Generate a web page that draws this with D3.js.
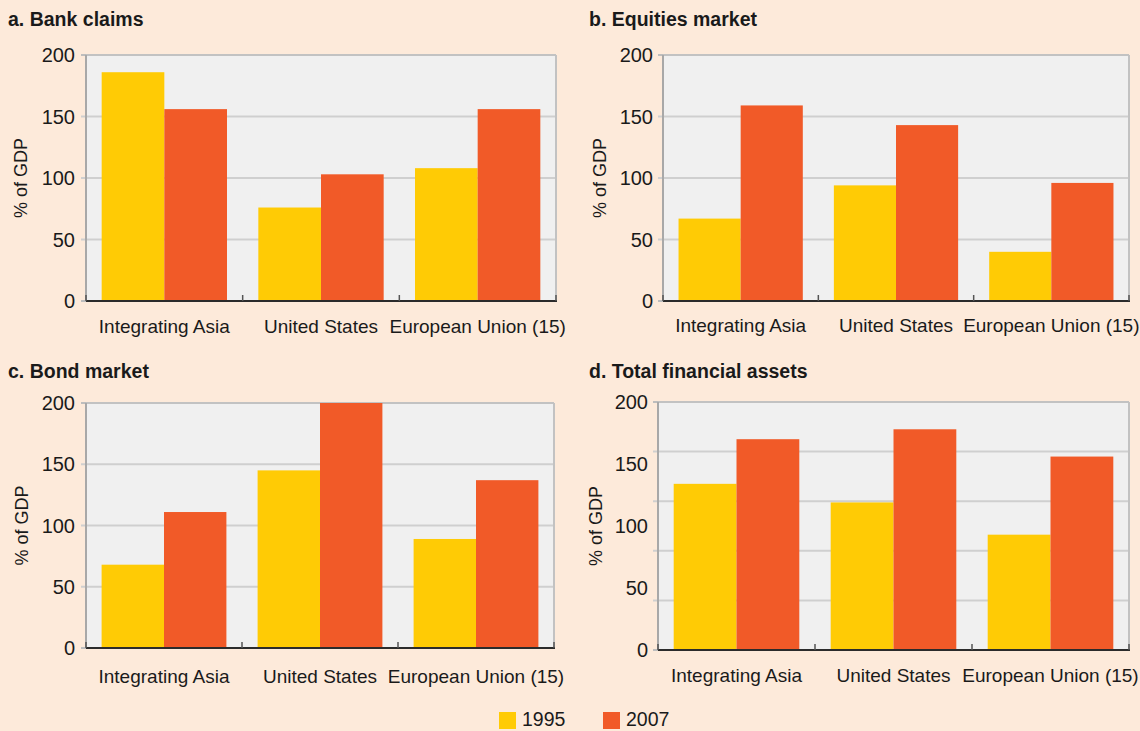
<!DOCTYPE html>
<html>
<head>
<meta charset="utf-8">
<script src="https://cdn.jsdelivr.net/npm/d3@7"></script>
<style>
  html, body { margin: 0; padding: 0; background: #FDEADA; }
  svg { display: block; }
  text { font-family: "Liberation Sans", Arial, sans-serif; fill: #1a1a1a; }
</style>
</head>
<body>
<svg id="chart" width="1140" height="731"></svg>
<script>
// ---- Data ----
const categories = ["Integrating Asia", "United States", "European Union (15)"];
const seriesNames = ["1995", "2007"];
const panelTitles = ["a. Bank claims", "b. Equities market", "c. Bond market", "d. Total financial assets"];
const yTickLabels = [0, 50, 100, 150, 200];
const bank1995 = [186, 76, 108];
const bank2007 = [156, 103, 156];
const equity1995 = [67, 94, 40];
const equity2007 = [159, 143, 96];
const bond1995 = [68, 145, 89];
const bond2007 = [111, 200, 137];
const total1995 = [134, 119, 93];
const total2007 = [170, 178, 156];
const totalGridValues = [40, 80, 120, 160];

// ---- Style / layout ----
const colors = { "1995": "#FFCB05", "2007": "#F15A28" };
const panels = [
  { title: panelTitles[0], v1: bank1995, v2: bank2007, left: 86, right: 556, top: 55, bottom: 301, tx: 8, ty: 26, ylx: 27, tickR: 75, catY: 333, grid: null },
  { title: panelTitles[1], v1: equity1995, v2: equity2007, left: 663, right: 1129, top: 55, bottom: 301, tx: 589, ty: 26, ylx: 606, tickR: 653, catY: 332, grid: null },
  { title: panelTitles[2], v1: bond1995, v2: bond2007, left: 86, right: 554, top: 403, bottom: 648, tx: 8, ty: 378, ylx: 28, tickR: 75, catY: 683, grid: null },
  { title: panelTitles[3], v1: total1995, v2: total2007, left: 658, right: 1129, top: 402, bottom: 650, tx: 589, ty: 378, ylx: 602, tickR: 648, catY: 682, grid: totalGridValues }
];

const svg = d3.select("#chart");

panels.forEach(p => {
  const g = svg.append("g");
  const x = d3.scaleBand().domain(categories).range([p.left, p.right]).paddingInner(0.2).paddingOuter(0.1);
  const xs = d3.scaleBand().domain(seriesNames).range([0, x.bandwidth()]);
  const y = d3.scaleLinear().domain([0, 200]).range([p.bottom, p.top]);

  // title
  g.append("text").attr("x", p.tx).attr("y", p.ty)
    .attr("font-size", 19.5).attr("font-weight", "bold").text(p.title);

  // plot background
  g.append("rect").attr("x", p.left).attr("y", p.top)
    .attr("width", p.right - p.left).attr("height", p.bottom - p.top)
    .attr("fill", "#F0F0F0");

  // gridlines + left ticks
  const gridVals = p.grid ? p.grid : yTickLabels.filter(v => v > 0 && v < 200);
  g.selectAll(".grid").data(gridVals).enter().append("line")
    .attr("x1", p.left - 5).attr("x2", p.right)
    .attr("y1", d => y(d)).attr("y2", d => y(d))
    .attr("stroke", "#CFCFCF").attr("stroke-width", 2);
  [0, 200].forEach(v => {
    g.append("line").attr("x1", p.left - 5).attr("x2", p.left)
      .attr("y1", y(v)).attr("y2", y(v)).attr("stroke", "#BDBDBD").attr("stroke-width", 2);
  });

  // frame: top, right
  g.append("line").attr("x1", p.left).attr("x2", p.right).attr("y1", p.top).attr("y2", p.top)
    .attr("stroke", "#C2C2C2").attr("stroke-width", 2);
  g.append("line").attr("x1", p.right).attr("x2", p.right).attr("y1", p.top).attr("y2", p.bottom)
    .attr("stroke", "#C2C2C2").attr("stroke-width", 2);

  // bars
  const rows = categories.map((c, i) => ({ cat: c, vals: [p.v1[i], p.v2[i]] }));
  const grp = g.selectAll(".grp").data(rows).enter().append("g")
    .attr("transform", d => `translate(${x(d.cat)},0)`);
  grp.selectAll("rect").data(d => d.vals.map((v, j) => ({ s: seriesNames[j], v }))).enter().append("rect")
    .attr("x", d => xs(d.s)).attr("width", xs.bandwidth())
    .attr("y", d => y(d.v)).attr("height", d => y(0) - y(d.v))
    .attr("fill", d => colors[d.s]);

  // left axis line
  g.append("line").attr("x1", p.left).attr("x2", p.left).attr("y1", p.top).attr("y2", p.bottom)
    .attr("stroke", "#A8A8A8").attr("stroke-width", 2);

  // bottom axis line with category boundary ticks
  g.append("line").attr("x1", p.left).attr("x2", p.right + 1).attr("y1", p.bottom).attr("y2", p.bottom)
    .attr("stroke", "#2b2b2b").attr("stroke-width", 2);
  const step = x.step();
  const bounds = [p.left, p.right].concat(categories.slice(1).map(c => x(c) - step * x.paddingInner() / 2));
  g.selectAll(".bt").data(bounds).enter().append("line")
    .attr("x1", d => d).attr("x2", d => d).attr("y1", p.bottom).attr("y2", p.bottom - 6)
    .attr("stroke", "#555").attr("stroke-width", 1.5);

  // y tick labels
  g.selectAll(".yl").data(yTickLabels).enter().append("text")
    .attr("x", p.tickR).attr("y", d => y(d)).attr("dy", "0.36em")
    .attr("text-anchor", "end").attr("font-size", 20).text(d => d);

  // category labels
  g.selectAll(".cl").data(categories).enter().append("text")
    .attr("x", d => x(d) + x.bandwidth() / 2).attr("y", p.catY)
    .attr("text-anchor", "middle").attr("font-size", 19).text(d => d);

  // y axis title
  g.append("text")
    .attr("transform", `translate(${p.ylx},${(p.top + p.bottom) / 2}) rotate(-90)`)
    .attr("text-anchor", "middle").attr("font-size", 18).text("% of GDP");
});

// legend
const legendX = { "1995": 499, "2007": 603 };
const lg = svg.append("g");
seriesNames.forEach(s => {
  lg.append("rect").attr("x", legendX[s]).attr("y", 712).attr("width", 17).attr("height", 17).attr("fill", colors[s]);
  lg.append("text").attr("x", legendX[s] + 23).attr("y", 726).attr("font-size", 19.5).text(s);
});
</script>
</body>
</html>
